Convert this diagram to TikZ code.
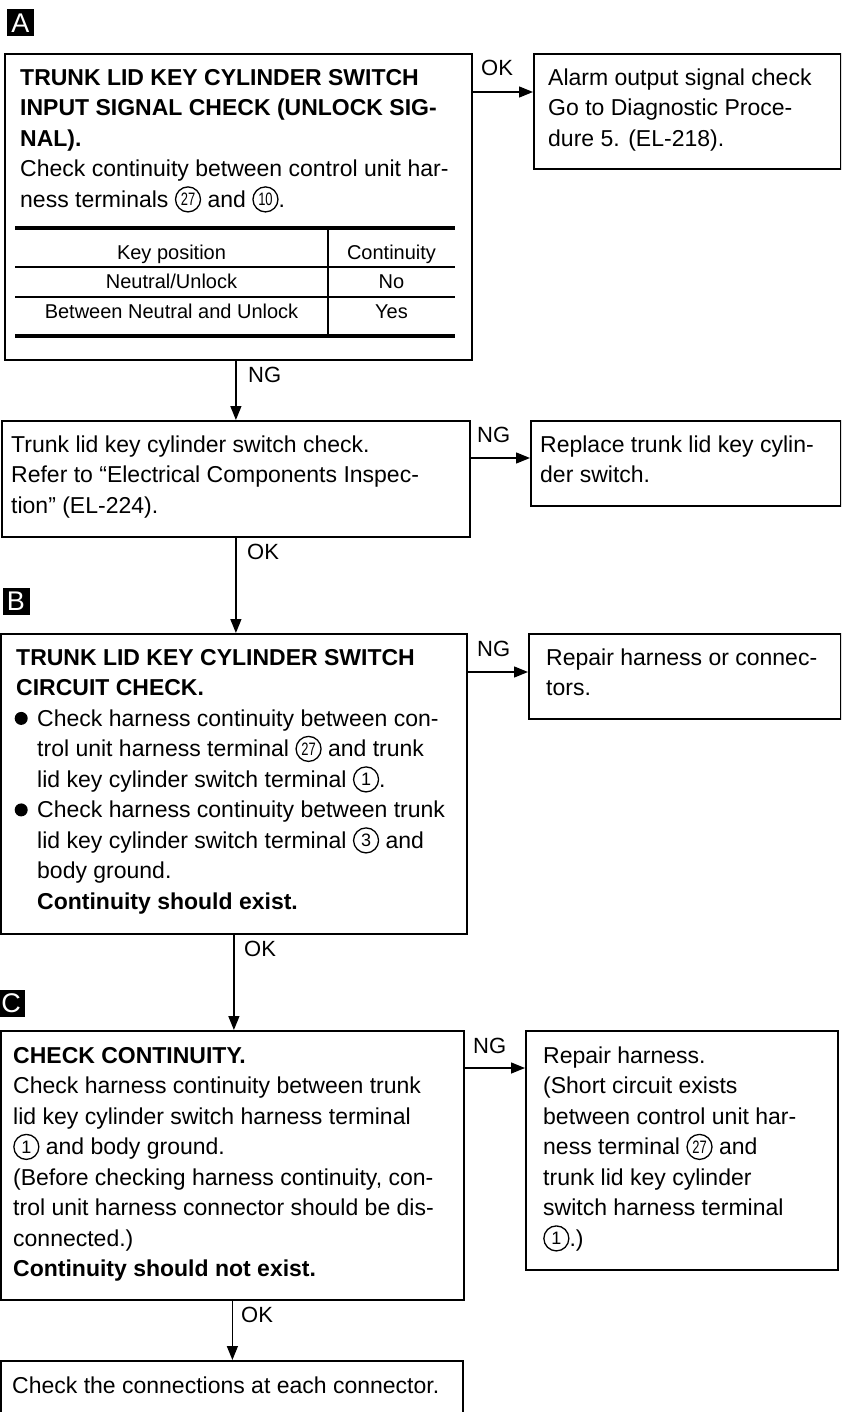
\documentclass[tikz,border=0pt]{standalone}
\usepackage{fontspec}
\setmainfont{Liberation Sans}
\usepackage{graphicx}
\usetikzlibrary{arrows.meta}
\newcommand\topstrut{\rule{0pt}{18pt}}
\newcommand\cnum[1]{\tikz[baseline={([yshift=-8pt]cn.center)}]\node[draw,circle,line width=1.3pt,inner sep=0pt,minimum size=25pt,font=\fontsize{18}{18}\selectfont](cn){#1};}
\newcommand\ctwo[1]{\cnum{\scalebox{0.72}[1]{#1}}}
\newcommand\bul{\tikz[baseline={([yshift=-8pt]bc.center)}]\node[fill,circle,inner sep=0pt,minimum size=13pt](bc){};}
\newcommand\bitem{\makebox[21pt][l]{\hspace*{-1.5pt}\bul}}
\newcommand\bind{\hspace*{21pt}}
\begin{document}
\begin{tikzpicture}[x=1pt,y=-1pt,
 box/.style={draw,line width=1.8pt,anchor=north west,inner sep=0pt},
 txt/.style={anchor=north west,inner sep=0pt,align=left,font=\fontsize{23}{30.5}\selectfont},
 lbl/.style={anchor=west,inner sep=0pt,font=\fontsize{22}{22}\selectfont},
 arr/.style={line width=1.4pt,-{Triangle[length=14pt,width=11pt]}},
 cell/.style={anchor=base,inner sep=0pt,font=\fontsize{20}{20}\selectfont},
 thick rule/.style={line width=3.5pt},
 thin rule/.style={line width=1.5pt},
 sec/.style={fill=black,text=white,minimum width=27pt,minimum height=27pt,inner sep=0pt,font=\fontsize{27}{27}\selectfont}]
\useasboundingbox (0,0) rectangle (841,1412);
\clip (0,0) rectangle (841,1412);

% ---------------- A ----------------
\node[sec] (secA) at (20.5,23) {A};
\node[box,minimum width=467pt,minimum height=306pt] (a1) at (4,53) {};
\node[txt] (a1t) at (20,67.2) {\topstrut\textbf{TRUNK LID KEY CYLINDER SWITCH}\\
\textbf{INPUT SIGNAL CHECK (UNLOCK SIG-}\\
\textbf{NAL).}\\
Check continuity between control unit har-\\
ness terminals \ctwo{27} and \ctwo{10}.};
\draw[thick rule] (15,228) -- (455,228);
\draw[thin rule] (15,267) -- (455,267);
\draw[thin rule] (15,297) -- (455,297);
\draw[thick rule] (15,336) -- (455,336);
\draw[thin rule] (328,228) -- (328,336);
\node[cell] (c11) at (171.5,260) {Key position};
\node[cell] (c12) at (391.5,260) {Continuity};
\node[cell] (c21) at (171.5,289) {Neutral/Unlock};
\node[cell] (c22) at (391.5,289) {No};
\node[cell] (c31) at (171.5,319) {Between Neutral and Unlock};
\node[cell] (c32) at (391.5,319) {Yes};

\node[box,minimum width=307pt,minimum height=115pt] (alarm) at (533,53) {};
\node[txt] (alarmt) at (548,67.2) {\topstrut Alarm output signal check\\
Go to Diagnostic Proce-\\
dure 5. (EL-218).};
\draw[arr] ([yshift=-39pt]a1.north east) -- ([yshift=-39pt]alarm.north west);
\node[lbl] (ok1) at (481,67.5) {OK};

% ---------------- switch check ----------------
\node[box,minimum width=468pt,minimum height=116pt] (b2) at (1,420) {};
\node[txt] (b2t) at (11,434.2) {\topstrut Trunk lid key cylinder switch check.\\
Refer to “Electrical Components Inspec-\\
tion” (EL-224).};
\draw[arr] (a1.south -| b2.north) -- (b2.north);
\node[lbl] (ng1) at (248,375) {NG};

\node[box,minimum width=310pt,minimum height=85pt] (rep) at (530,420) {};
\node[txt] (rept) at (540,434.2) {\topstrut Replace trunk lid key cylin-\\
der switch.};
\draw[arr] ([yshift=-38pt]b2.north east) -- ([yshift=-38pt]rep.north west);
\node[lbl] (ng2) at (477,435) {NG};

% ---------------- B ----------------
\node[sec] (secB) at (16,601) {B};
\node[box,minimum width=466pt,minimum height=300pt] (bb) at (0,633) {};
\node[txt] (bbt) at (16,647.2) {\topstrut\textbf{TRUNK LID KEY CYLINDER SWITCH}\\
\textbf{CIRCUIT CHECK.}\\
\bitem Check harness continuity between con-\\
\bind trol unit harness terminal \ctwo{27} and trunk\\
\bind lid key cylinder switch terminal \cnum{1}.\\
\bitem Check harness continuity between trunk\\
\bind lid key cylinder switch terminal \cnum{3} and\\
\bind body ground.\\
\bind\textbf{Continuity should exist.}};
\draw[arr] (b2.south) -- (b2.south |- bb.north);
\node[lbl] (ok2) at (247,552) {OK};

\node[box,minimum width=312pt,minimum height=85pt] (repb) at (528,633) {};
\node[txt] (repbt) at (546,647.2) {\topstrut Repair harness or connec-\\
tors.};
\draw[arr] ([yshift=-39pt]bb.north east) -- ([yshift=-39pt]repb.north west);
\node[lbl] (ng3) at (477,649) {NG};

% ---------------- C ----------------
\node[sec] (secC) at (11,1003) {C};
\node[box,minimum width=463pt,minimum height=269pt] (cc) at (0,1030) {};
\node[txt] (cct) at (13,1045.2) {\topstrut\textbf{CHECK CONTINUITY.}\\
Check harness continuity between trunk\\
lid key cylinder switch harness terminal\\
\cnum{1} and body ground.\\
(Before checking harness continuity, con-\\
trol unit harness connector should be dis-\\
connected.)\\
\textbf{Continuity should not exist.}};
\draw[arr] (bb.south) -- (bb.south |- cc.north);
\node[lbl] (ok3) at (244,949) {OK};

\node[box,minimum width=312pt,minimum height=239pt] (repc) at (525,1030) {};
\node[txt] (repct) at (543,1045.2) {\topstrut Repair harness.\\
(Short circuit exists\\
between control unit har-\\
ness terminal \ctwo{27} and\\
trunk lid key cylinder\\
switch harness terminal\\
\cnum{1}.)};
\draw[arr] ([yshift=-38pt]cc.north east) -- ([yshift=-38pt]repc.north west);
\node[lbl] (ng4) at (473,1046) {NG};

% ---------------- final ----------------
\node[box,minimum width=462pt,minimum height=100pt] (fin) at (0,1360) {};
\node[txt] (fint) at (12,1375.2) {\topstrut Check the connections at each connector.};
\draw[arr] (cc.south) -- (cc.south |- fin.north);
\node[lbl] (ok4) at (241,1315) {OK};
\end{tikzpicture}
\end{document}
